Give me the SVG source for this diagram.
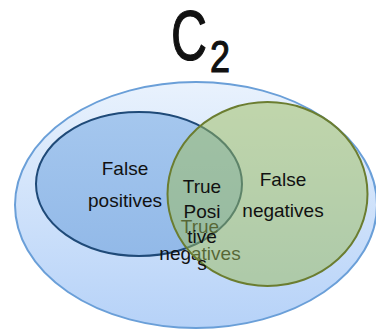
<svg xmlns="http://www.w3.org/2000/svg" width="376" height="334" viewBox="0 0 376 334">
<defs>
<linearGradient id="gOuter" x1="0" y1="0" x2="0" y2="1">
<stop offset="0" stop-color="#e9f2fd"/>
<stop offset="1" stop-color="#b6d2f8"/>
</linearGradient>
<linearGradient id="gBlue" x1="0" y1="0" x2="0" y2="1">
<stop offset="0" stop-color="#a5c7ee"/>
<stop offset="1" stop-color="#92b9e8"/>
</linearGradient>
</defs>
<style>
text{font-family:"Liberation Sans",Arial,sans-serif;fill:#111;text-anchor:middle}
.lbl{font-size:19px}
.big{stroke:#111;stroke-width:1.2}
</style>
<rect width="376" height="334" fill="#ffffff"/>
<g id="title">
<text class="big" x="189" y="60" font-size="70" textLength="36" lengthAdjust="spacingAndGlyphs">C</text>
<text class="big" x="220" y="72" font-size="45" textLength="20" lengthAdjust="spacingAndGlyphs">2</text>
</g>
<g id="outer">
<ellipse cx="196" cy="205" rx="181" ry="123" fill="url(#gOuter)" stroke="#6a9fd8" stroke-width="2"/>
</g>
<g id="falsePositives">
<ellipse cx="139" cy="184" rx="103" ry="72" fill="url(#gBlue)" stroke="#1f4a78" stroke-width="2"/>
<text class="lbl" x="125" y="175">False</text>
<text class="lbl" x="125" y="207">positives</text>
</g>
<g id="trueNegatives">
<text class="lbl" x="200" y="233">True</text>
<text class="lbl" x="200" y="260">negatives</text>
</g>
<g id="falseNegatives">
<ellipse cx="267.5" cy="194" rx="100" ry="92" fill="#9bbb59" fill-opacity="0.5" stroke="#6b7d30" stroke-width="2"/>
<text class="lbl" x="283" y="186">False</text>
<text class="lbl" x="283" y="217">negatives</text>
</g>
<g id="truePositives">
<text class="lbl" x="202" y="193">True</text>
<text class="lbl" x="202" y="218">Posi</text>
<text class="lbl" x="202" y="243">tive</text>
<text class="lbl" x="202" y="270">s</text>
</g>
<g id="connectors"/>
</svg>
